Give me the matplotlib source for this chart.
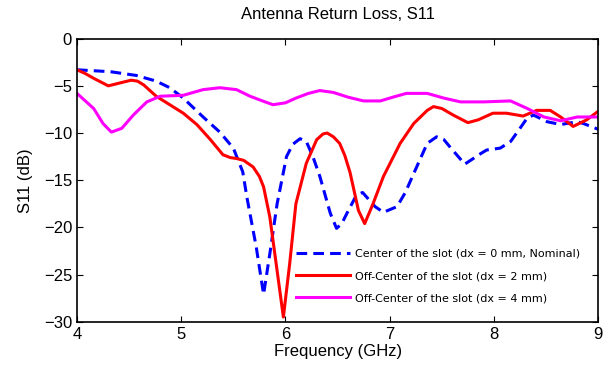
import matplotlib.pyplot as plt

plt.rcParams['font.family'] = ['Liberation Sans', 'DejaVu Sans']

# Center of the slot (dx = 0 mm)
f_center = [4.0, 4.32, 4.57, 4.76, 4.89, 5.02, 5.21, 5.37, 5.5, 5.59, 5.63, 5.72,
            5.79, 5.85, 5.92, 6.01, 6.07, 6.14, 6.2, 6.26, 6.33, 6.43, 6.49, 6.54,
            6.59, 6.68, 6.74, 6.78, 6.86, 6.94, 7.07, 7.15, 7.23, 7.36, 7.45, 7.52,
            7.58, 7.72, 7.87, 7.93, 8.06, 8.16, 8.25, 8.32, 8.38, 8.51, 8.64, 8.8,
            8.86, 9.0]
s_center = [-3.3, -3.5, -3.9, -4.5, -5.2, -6.3, -8.3, -9.9, -11.6, -14.1, -16.8, -22.1,
            -27.1, -22.8, -17.5, -12.5, -11.2, -10.6, -10.9, -12.4, -14.6, -18.5, -20.1, -19.6,
            -18.5, -16.6, -16.3, -16.8, -17.8, -18.4, -17.8, -16.3, -14.3, -11.1, -10.4, -10.7,
            -11.5, -13.3, -12.2, -11.8, -11.6, -10.9, -9.5, -8.4, -8.1, -8.8, -9.1, -8.8,
            -9.0, -9.6]

# Off-center (dx = 2 mm)
f_2mm = [4.0, 4.08, 4.16, 4.3, 4.41, 4.52, 4.58, 4.64, 4.7, 4.76, 4.89, 5.02, 5.15,
         5.28, 5.4, 5.47, 5.53, 5.6, 5.69, 5.75, 5.79, 5.85, 5.92, 5.98, 6.04, 6.1, 6.2,
         6.3, 6.36, 6.4, 6.46, 6.52, 6.57, 6.62, 6.7, 6.76, 6.84, 6.94, 7.1, 7.23, 7.36,
         7.42, 7.5, 7.61, 7.75, 7.85, 7.99, 8.12, 8.28, 8.41, 8.54, 8.64, 8.76, 8.89, 9.0]
s_2mm = [-3.3, -3.7, -4.2, -5.0, -4.7, -4.4, -4.5, -4.9, -5.5, -6.1, -7.0, -7.9, -9.1,
         -10.7, -12.3, -12.6, -12.7, -12.9, -13.6, -14.6, -15.7, -18.9, -24.6, -29.5, -23.9, -17.5, -13.2,
         -10.7, -10.1, -10.0, -10.4, -11.1, -12.4, -14.2, -18.2, -19.6, -17.5, -14.6, -11.1, -9.0, -7.6,
         -7.2, -7.4, -8.1, -8.9, -8.6, -7.9, -7.9, -8.2, -7.6, -7.6, -8.3, -9.3, -8.6, -7.7]

# Off-center (dx = 4 mm)
f_4mm = [4.0, 4.16, 4.25, 4.33, 4.43, 4.54, 4.67, 4.8, 5.02, 5.21, 5.37, 5.53, 5.66,
         5.78, 5.88, 6.0, 6.1, 6.22, 6.33, 6.46, 6.6, 6.75, 6.91, 7.03, 7.16, 7.36,
         7.52, 7.68, 7.9, 8.16, 8.32, 8.48, 8.64, 8.8, 9.0]
s_4mm = [-5.8, -7.4, -9.0, -9.9, -9.5, -8.1, -6.7, -6.1, -6.0, -5.4, -5.2, -5.4, -6.1,
         -6.6, -7.0, -6.8, -6.3, -5.8, -5.5, -5.7, -6.2, -6.6, -6.6, -6.2, -5.8, -5.8,
         -6.3, -6.7, -6.7, -6.6, -7.4, -8.3, -8.7, -8.3, -8.3]

labels = ['Center of the slot (dx = 0 mm, Nominal)',
          'Off-Center of the slot (dx = 2 mm)',
          'Off-Center of the slot (dx = 4 mm)']

fig = plt.figure(figsize=(6.11, 3.79), dpi=100)
ax = fig.add_axes([0.126, 0.151, 0.853, 0.747])

ax.plot(f_center, s_center, color='#0000FF', lw=2.2, dashes=(3.5, 2), label=labels[0])
ax.plot(f_2mm, s_2mm, color='#FF0000', lw=2.2, label=labels[1])
ax.plot(f_4mm, s_4mm, color='#FF00FF', lw=2.2, label=labels[2])

ax.set_xlim(4, 9)
ax.set_ylim(-30, 0)
ax.set_xticks([4, 5, 6, 7, 8, 9])
ax.set_yticks([-30, -25, -20, -15, -10, -5, 0])
ax.tick_params(direction='in', top=True, right=True, labelsize=12, length=4)
for sp in ax.spines.values():
    sp.set_linewidth(1.2)

ax.set_xlabel('Frequency (GHz)', fontsize=12, labelpad=2)
ax.set_ylabel('S11 (dB)', fontsize=12, labelpad=8)
ax.set_title('Antenna Return Loss, S11', fontsize=12, pad=14)

ax.legend(loc='lower right', bbox_to_anchor=(0.985, 0.03), frameon=False,
          prop={'family': ['Liberation Sans Narrow', 'DejaVu Sans'], 'size': 8},
          handlelength=4.8, handletextpad=0.5, labelspacing=1.1)

fig.savefig('out.png', dpi=100)
